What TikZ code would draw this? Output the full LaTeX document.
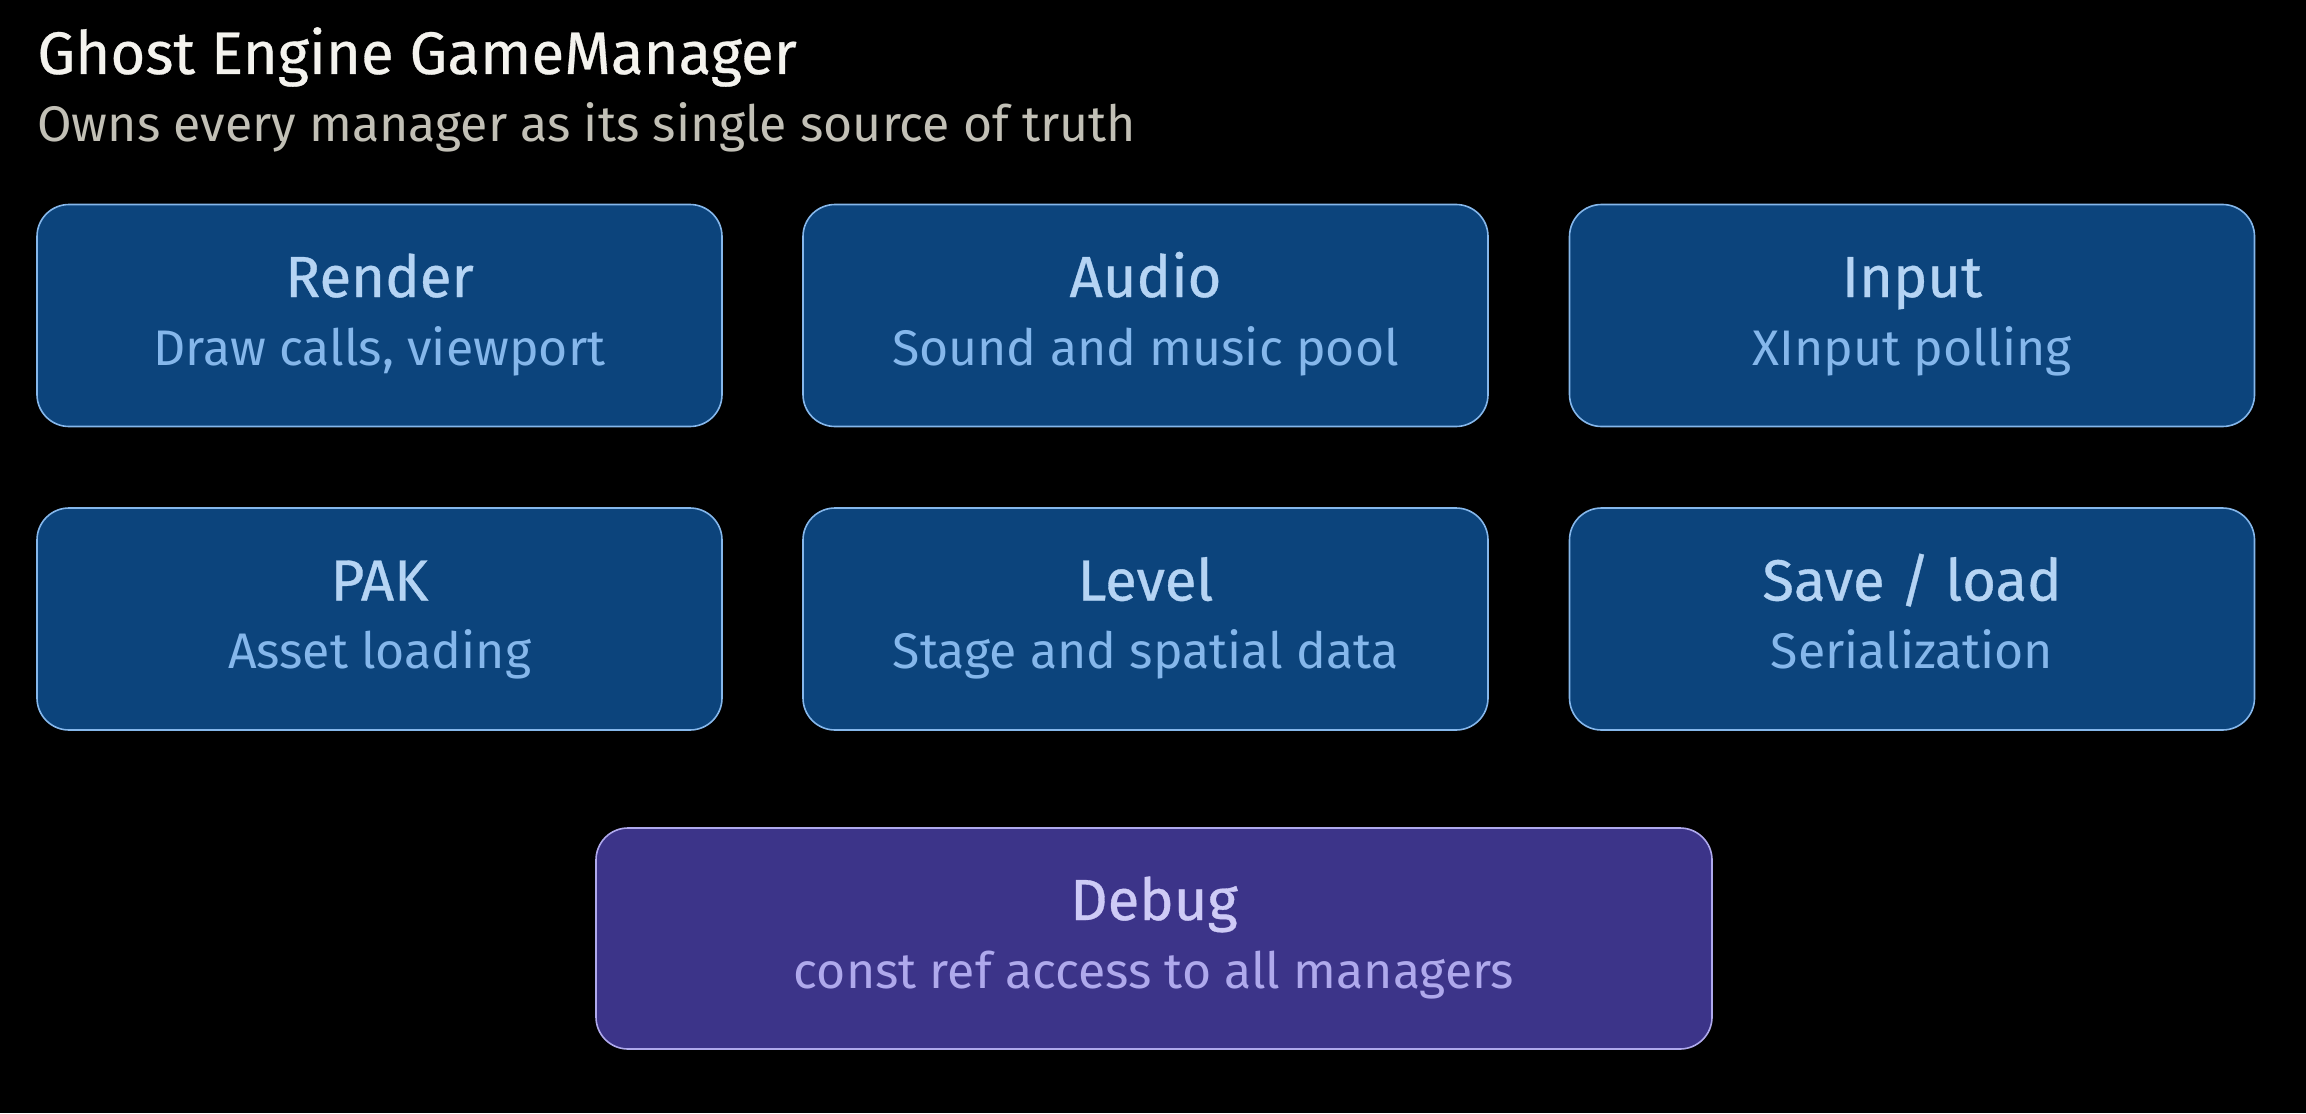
\documentclass[tikz,border=0pt]{standalone}
\usepackage{fontspec}
\setmainfont{Fira Sans}
\definecolor{bg}{HTML}{000000}
\definecolor{hdr}{HTML}{F4F3EE}
\definecolor{hdrsub}{HTML}{C2C0B6}
\definecolor{bfill}{HTML}{0C447C}
\definecolor{bline}{HTML}{85B7EB}
\definecolor{btitle}{HTML}{B5D4F4}
\definecolor{bsub}{HTML}{85B7EB}
\definecolor{pfill}{HTML}{3C3489}
\definecolor{pline}{HTML}{AFA9EC}
\definecolor{ptitle}{HTML}{CECBF6}
\definecolor{psub}{HTML}{AFA9EC}
\tikzset{
  mgr/.style={draw=bline, fill=bfill, line width=0.8pt, rounded corners=16pt, minimum width=342.5pt, minimum height=111pt, inner sep=0pt},
  dbg/.style={mgr, draw=pline, fill=pfill, minimum width=558pt, minimum height=110.5pt},
  ttl/.style={text=btitle, font=\fontsize{29}{34}\selectfont\addfontfeature{FakeBold=0.6}, anchor=base},
  sub/.style={text=bsub, font=\fontsize{25}{30}\selectfont, anchor=base},
}
\begin{document}
\begin{tikzpicture}[x=0.5pt,y=-0.5pt]
\fill[bg] (0,0) rectangle (2306,1113);
\useasboundingbox (0,0) rectangle (2306,1113);
\node[anchor=base west, text=hdr, font=\fontsize{30}{35}\selectfont\addfontfeature{FakeBold=0.5}, inner sep=0pt] (title) at (37,74) {Ghost Engine GameManager};
\node[anchor=base west, text=hdrsub, font=\fontsize{25}{30}\selectfont, inner sep=0pt] (subtitle) at (37,141) {Owns every manager as its single source of truth};

\node[mgr] (render) at (379.5,315.5) {};
\node[mgr] (audio) at (1145.5,315.5) {};
\node[mgr] (input) at (1912,315.5) {};
\node[mgr] (pak) at (379.5,619) {};
\node[mgr] (level) at (1145.5,619) {};
\node[mgr] (save) at (1912,619) {};
\node[dbg] (debug) at (1154,938.5) {};

\foreach \n/\t/\s in {render/Render/{Draw calls, viewport}, audio/Audio/{Sound and music pool}, input/Input/{XInput polling}, pak/PAK/{Asset loading}, level/Level/{Stage and spatial data}, save/{Save / load}/{Serialization}}{
  \node[ttl] (\n-t) at ([yshift=9.25pt]\n.center) {\t};
  \node[sub] (\n-s) at ([yshift=-24.75pt]\n.center) {\s};
}
\node[ttl, text=ptitle] (debug-t) at ([yshift=9.25pt]debug.center) {Debug};
\node[sub, text=psub] (debug-s) at ([yshift=-24.75pt]debug.center) {const ref access to all managers};
\end{tikzpicture}
\end{document}
